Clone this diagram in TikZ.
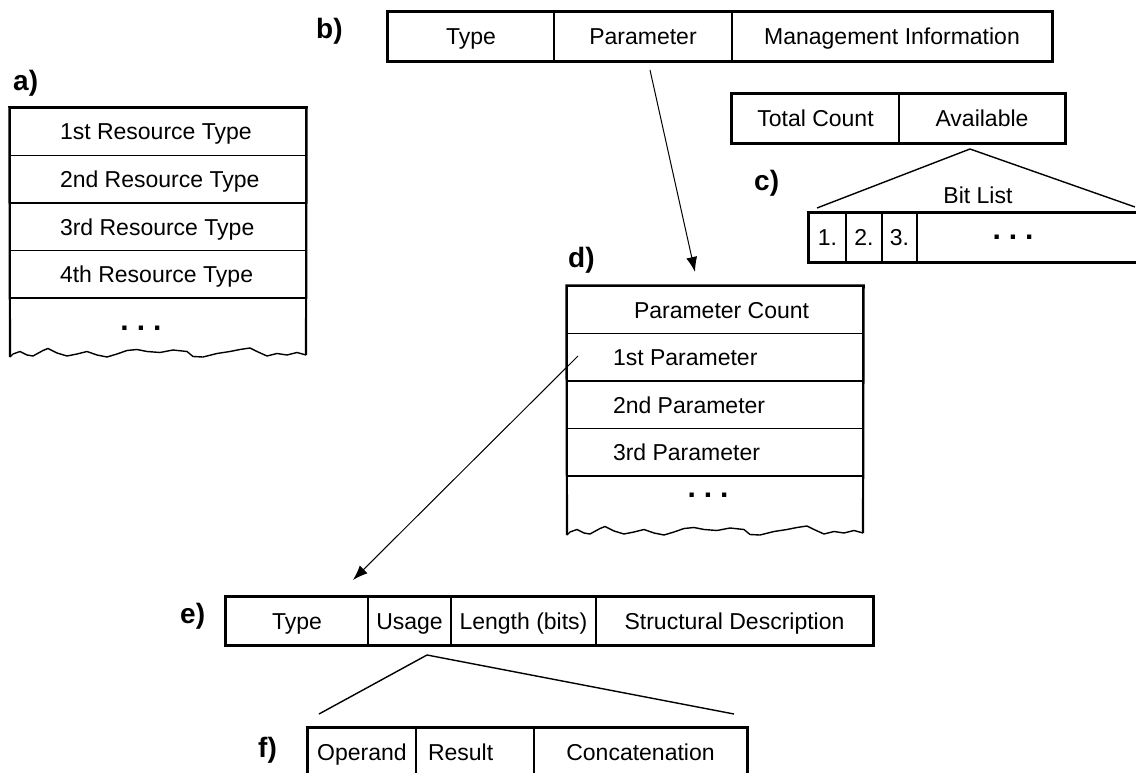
\documentclass[tikz,border=0pt]{standalone}
\usepackage{fontspec}
\setmainfont{Liberation Sans}
\usetikzlibrary{arrows.meta}
\pgfdeclarelayer{edgelayer}
\pgfdeclarelayer{nodelayer}
\pgfsetlayers{edgelayer,nodelayer,main}
\tikzstyle{none}=[inner sep=0pt]
\tikzstyle{tag}=[inner sep=0pt, anchor=base west, font=\fontsize{28}{30}\selectfont\bfseries]
\tikzstyle{word}=[inner sep=0pt, anchor=base, font=\fontsize{23}{27}\selectfont]
\tikzstyle{more}=[inner sep=0pt, anchor=base, font=\fontsize{30}{30}\selectfont\bfseries]
\tikzstyle{field}=[rectangle, draw=black, line width=1.3pt, inner sep=0pt, minimum height=47.5pt, text height=16.5pt, text depth=0pt, font=\fontsize{23}{27}\selectfont]
\tikzstyle{boxline}=[draw=black, line width=2.2pt]
\tikzstyle{wedge}=[draw=black, line width=1.4pt]
\tikzstyle{pointer}=[-{Latex[length=15pt,width=11pt]}, draw=black, line width=1pt]

\begin{document}
\begin{tikzpicture}[x=1pt, y=-1pt]
	\useasboundingbox (0, 0) rectangle (1136, 773);
	\begin{pgfonlayer}{nodelayer}
		\node [style=tag] (0) at (13, 91) {a)};
		\node [style=tag] (1) at (316, 39) {b)};
		\node [style=tag] (2) at (754, 191) {c)};
		\node [style=tag] (3) at (568, 267) {d)};
		\node [style=tag] (4) at (180, 623) {e)};
		\node [style=tag] (5) at (258, 757) {f)};
		\node [style=field, minimum width=296pt] (6) at (158, 131.75) {\makebox[196pt][l]{1st Resource Type}};
		\node [style=field, minimum width=296pt] (7) at (158, 179.25) {\makebox[196pt][l]{2nd Resource Type}};
		\node [style=field, minimum width=296pt] (8) at (158, 226.75) {\makebox[196pt][l]{3rd Resource Type}};
		\node [style=field, minimum width=296pt] (9) at (158, 274.25) {\makebox[196pt][l]{4th Resource Type}};
		\node [style=more] (10) at (141, 330) {.\hspace{8pt}.\hspace{8pt}.};
		\node [style=none] (11) at (10, 357) {};
		\node [style=none] (12) at (306, 355) {};
		\node [style=field, minimum width=166pt, minimum height=49pt] (13) at (471, 36.5) {Type};
		\node [style=field, minimum width=178pt, minimum height=49pt] (14) at (643, 36.5) {Parameter};
		\node [style=field, minimum width=320pt, minimum height=49pt] (15) at (892, 36.5) {Management Information};
		\node [style=field, minimum width=167pt, minimum height=49pt] (16) at (815.5, 118.5) {Total Count};
		\node [style=field, minimum width=166pt, minimum height=49pt] (17) at (982, 118.5) {Available};
		\node [style=field, minimum width=37pt, minimum height=49pt] (18) at (827.5, 237.5) {1.};
		\node [style=field, minimum width=36pt, minimum height=49pt] (19) at (864, 237.5) {2.};
		\node [style=field, minimum width=35pt, minimum height=49pt] (20) at (899.5, 237.5) {3.};
		\node [style=field, minimum width=233pt, minimum height=49pt] (21) at (1033.5, 237.5) {};
		\node [style=word] (22) at (978, 204) {Bit List};
		\node [style=more] (23) at (1013, 239) {.\hspace{8pt}.\hspace{8pt}.};
		\node [style=none] (24) at (970, 149) {};
		\node [style=none] (25) at (817, 208) {};
		\node [style=none] (26) at (1135, 207) {};
		\node [style=field, minimum width=296pt] (27) at (715, 309.75) {\makebox[162pt][l]{Parameter Count}};
		\node [style=field, minimum width=296pt] (28) at (715, 357.25) {\makebox[204pt][l]{1st Parameter}};
		\node [style=field, minimum width=296pt] (29) at (715, 404.75) {\makebox[204pt][l]{2nd Parameter}};
		\node [style=field, minimum width=296pt] (30) at (715, 452.25) {\makebox[204pt][l]{3rd Parameter}};
		\node [style=more] (31) at (708, 497) {.\hspace{8pt}.\hspace{8pt}.};
		\node [style=none] (32) at (567, 535) {};
		\node [style=none] (33) at (863, 533) {};
		\node [style=field, minimum width=142pt, minimum height=48pt] (34) at (297, 621) {Type};
		\node [style=field, minimum width=83pt, minimum height=48pt] (35) at (409.5, 621) {Usage};
		\node [style=field, minimum width=145pt, minimum height=48pt] (36) at (523.5, 621) {Length (bits)};
		\node [style=field, minimum width=277pt, minimum height=48pt] (37) at (734.5, 621) {Structural Description};
		\node [style=field, minimum width=108pt, minimum height=49pt] (38) at (362, 752.5) {Operand};
		\node [style=field, minimum width=118pt, minimum height=49pt] (39) at (475, 752.5) {\makebox[94pt][l]{Result}};
		\node [style=field, minimum width=213pt, minimum height=49pt] (40) at (640.5, 752.5) {Concatenation};
		\node [style=none] (41) at (427, 655) {};
		\node [style=none] (42) at (319, 714) {};
		\node [style=none] (43) at (734, 714) {};
		\node [style=none] (44) at (650, 70) {};
		\node [style=none] (45) at (695, 272) {};
		\node [style=none] (46) at (578, 356) {};
		\node [style=none] (47) at (353, 580) {};
	\end{pgfonlayer}
	\begin{pgfonlayer}{edgelayer}
		\draw [style=boxline] (11.center) to (6.north west) to (6.north east) to (12.center);
		\draw [style=boxline] (32.center) to (27.north west) to (27.north east) to (33.center);
		\draw [style=boxline] (13.north west) rectangle (15.south east);
		\draw [style=boxline] (16.north west) rectangle (17.south east);
		\draw [style=boxline] (18.north west) rectangle (21.south east);
		\draw [style=boxline] (34.north west) rectangle (37.south east);
		\draw [style=boxline] (38.north west) rectangle (40.south east);
		\draw [style=wedge] (25.center) to (24.center) to (26.center);
		\draw [style=wedge] (42.center) to (41.center) to (43.center);
		\draw [style=pointer] (44.center) to (45.center);
		\draw [style=pointer] (46.center) to (47.center);
		% torn bottom edges
		\begin{scope}[shift={(10, 352)}]
			\draw [style=wedge] plot coordinates {(0,5) (3,2) (10,-0.5) (17,3) (23,4) (33,-1.5) (38,-3.5) (47,1) (57,4) (67,2) (77,-0.5) (87,3) (97,5) (107,2) (117,-1.5) (127,-2.5) (137,-0.5) (150,0.5) (163,-2) (177,-0.5) (183,4.5) (193,5) (207,1.5) (220,-0.5) (230,-2.5) (240,-4) (247,-0.5) (257,4) (267,1.5) (277,3) (287,0.5) (296,3)};
		\end{scope}
		\begin{scope}[shift={(567, 530)}]
			\draw [style=wedge] plot coordinates {(0,5) (3,2) (10,-0.5) (17,3) (23,4) (33,-1.5) (38,-3.5) (47,1) (57,4) (67,2) (77,-0.5) (87,3) (97,5) (107,2) (117,-1.5) (127,-2.5) (137,-0.5) (150,0.5) (163,-2) (177,-0.5) (183,4.5) (193,5) (207,1.5) (220,-0.5) (230,-2.5) (240,-4) (247,-0.5) (257,4) (267,1.5) (277,3) (287,0.5) (296,3)};
		\end{scope}
	\end{pgfonlayer}
\end{tikzpicture}
\end{document}
